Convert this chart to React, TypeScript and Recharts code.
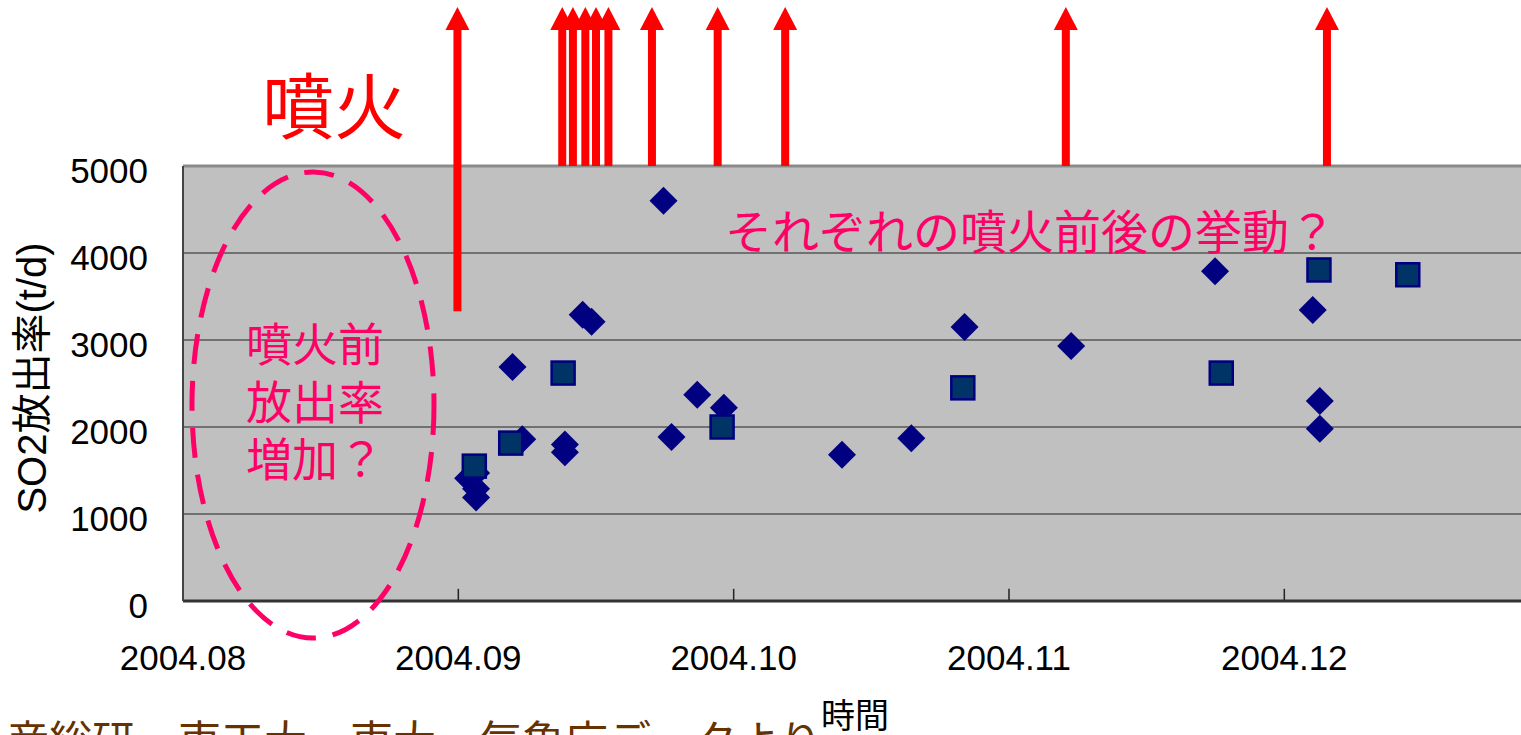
import React from 'react';
import { ScatterChart, Scatter, XAxis, YAxis, CartesianGrid, ReferenceLine } from 'recharts';

// x values are days counted from 2004-08-01; the month ticks are spaced 31 days apart
const monthTicks = [0, 31, 62, 93, 124];
const monthLabels = ['2004.08', '2004.09', '2004.10', '2004.11', '2004.12'];
const rateTicks = [0, 1000, 2000, 3000, 4000, 5000];

// SO2 emission rate (t/d), first observation set (diamonds)
const diamondDays = [32.1, 33.0, 33.0, 33.0, 38.2, 37.1, 43.0, 43.0, 45.0, 46.0, 54.1, 55.0, 57.9, 60.9, 74.2, 82.0, 88.0, 100.0, 116.2, 127.2, 128.0, 128.0];
const diamondRates = [1410, 1470, 1290, 1190, 1860, 2690, 1800, 1710, 3290, 3210, 4600, 1885, 2370, 2220, 1680, 1870, 3150, 2930, 3790, 3345, 2300, 1980];

// SO2 emission rate (t/d), second observation set (squares)
const squareDays = [32.8, 36.9, 42.8, 60.7, 87.8, 116.9, 127.9, 137.9];
const squareRates = [1550, 1815, 2620, 2000, 2450, 2620, 3805, 3750];

// eruption dates; the arrow shaft starts at the given level
const eruptionDays = [30.9, 42.7, 43.9, 45.3, 46.5, 47.9, 52.8, 60.2, 67.8, 99.4, 128.8];
const eruptionBase = [3330, 5000, 5000, 5000, 5000, 5000, 5000, 5000, 5000, 5000, 5000];

const diamonds = diamondDays.map((x, i) => ({ x, y: diamondRates[i] }));
const squares = squareDays.map((x, i) => ({ x, y: squareRates[i] }));
const eruptions = eruptionDays.map((x, i) => ({ x, y: eruptionBase[i] }));

const PINK = '#FF0066';
const LATIN = "'Liberation Sans', Arial, 'Noto Sans CJK JP', sans-serif";
const CJK = "'Noto Sans CJK JP', 'Noto Sans CJK SC', sans-serif";

const Diamond = (props: any) => {
  const { cx, cy } = props;
  const r = 14;
  return <polygon points={`${cx},${cy - r} ${cx + r},${cy} ${cx},${cy + r} ${cx - r},${cy}`} fill="#000080" />;
};

const Square = (props: any) => {
  const { cx, cy } = props;
  const h = 11.5;
  return <rect x={cx - h} y={cy - h} width={h * 2} height={h * 2} fill="#003366" stroke="#000080" strokeWidth={2.5} />;
};

// eruption marker: a red arrow rising from the point to the top of the figure
const ARROW_TIP_Y = 7;
const Arrow = (props: any) => {
  const { cx, cy } = props;
  const headH = 23;
  const headW = 24;
  const shaftW = 8;
  const shaftTop = ARROW_TIP_Y + headH - 1;
  return (
    <g>
      <rect x={cx - shaftW / 2} y={shaftTop} width={shaftW} height={Math.max(0, cy - shaftTop)} fill="#FF0000" />
      <polygon points={`${cx},${ARROW_TIP_Y} ${cx + headW / 2},${ARROW_TIP_Y + headH} ${cx - headW / 2},${ARROW_TIP_Y + headH}`} fill="#FF0000" />
    </g>
  );
};

const XTick = (props: any) => {
  const { x, y, payload } = props;
  const idx = monthTicks.indexOf(payload.value);
  return (
    <text x={x} y={y} textAnchor="middle" dominantBaseline="central" fontSize={35} fontFamily={LATIN} fill="#000">
      {idx >= 0 ? monthLabels[idx] : ''}
    </text>
  );
};

const YTick = (props: any) => {
  const { x, y, payload } = props;
  return (
    <text x={x} y={y + 4} textAnchor="end" dominantBaseline="central" fontSize={35} fontFamily={LATIN} fill="#000">
      {payload.value}
    </text>
  );
};

export default function App() {
  return (
    <div style={{ position: 'fixed', left: 0, top: 0, width: 1521, height: 735, overflow: 'hidden', background: '#fff' }}>
      <ScatterChart width={1545} height={735} margin={{ top: 166, right: 12, bottom: 74, left: 63 }}>
        <CartesianGrid horizontal vertical={false} fill="#C0C0C0" fillOpacity={1} stroke="#222" strokeWidth={1.2} />
        <XAxis
          type="number"
          dataKey="x"
          domain={[0, 152]}
          ticks={monthTicks}
          tick={<XTick />}
          tickSize={0}
          tickMargin={56}
          height={60}
          axisLine={{ stroke: '#333', strokeWidth: 3 }}
          tickLine={false}
          allowDataOverflow
        />
        <YAxis
          type="number"
          dataKey="y"
          domain={[0, 5000]}
          ticks={rateTicks}
          tick={<YTick />}
          tickSize={0}
          tickMargin={35}
          width={120}
          axisLine={{ stroke: '#444', strokeWidth: 2 }}
          tickLine={false}
        />
        <ReferenceLine y={5000} stroke="#8a8a8a" strokeWidth={3} />
        {monthTicks.slice(1).map((t) => (
          <ReferenceLine key={t} segment={[{ x: t, y: 0 }, { x: t, y: 140 }]} stroke="#222" strokeWidth={1.5} />
        ))}
        <Scatter data={diamonds} shape={<Diamond />} isAnimationActive={false} />
        <Scatter data={squares} shape={<Square />} isAnimationActive={false} />
        <Scatter data={eruptions} shape={<Arrow />} isAnimationActive={false} />
      </ScatterChart>
      <svg width={1521} height={735} style={{ position: 'absolute', left: 0, top: 0, pointerEvents: 'none' }}>
        <ellipse cx={313} cy={405} rx={121} ry={233} fill="none" stroke={PINK} strokeWidth={5} strokeDasharray="30 17" />
        <text x={262} y={101} dominantBaseline="central" fontSize={72} fontFamily={CJK} fill="#FF0000">噴火</text>
        <text x={246} y={341} dominantBaseline="central" fontSize={46} fontFamily={CJK} fill={PINK}>噴火前</text>
        <text x={246} y={399} dominantBaseline="central" fontSize={46} fontFamily={CJK} fill={PINK}>放出率</text>
        <text x={246} y={456} dominantBaseline="central" fontSize={46} fontFamily={CJK} fill={PINK}>増加？</text>
        <text x={725} y={228} dominantBaseline="central" fontSize={47} fontFamily={CJK} fill={PINK}>それぞれの噴火前後の挙動？</text>
        <text x={32} y={378} transform="rotate(-90 32 378)" textAnchor="middle" dominantBaseline="central" fontSize={40} fontFamily={LATIN} fill="#000">SO2放出率(t/d)</text>
        <text x={855} y={713} textAnchor="middle" dominantBaseline="central" fontSize={34} fontFamily={CJK} fill="#000">時間</text>
        <text x={6} y={757} fontSize={43} fontFamily={CJK} fill="#663300">産総研・東工大・東大・気象庁データより</text>
      </svg>
    </div>
  );
}
